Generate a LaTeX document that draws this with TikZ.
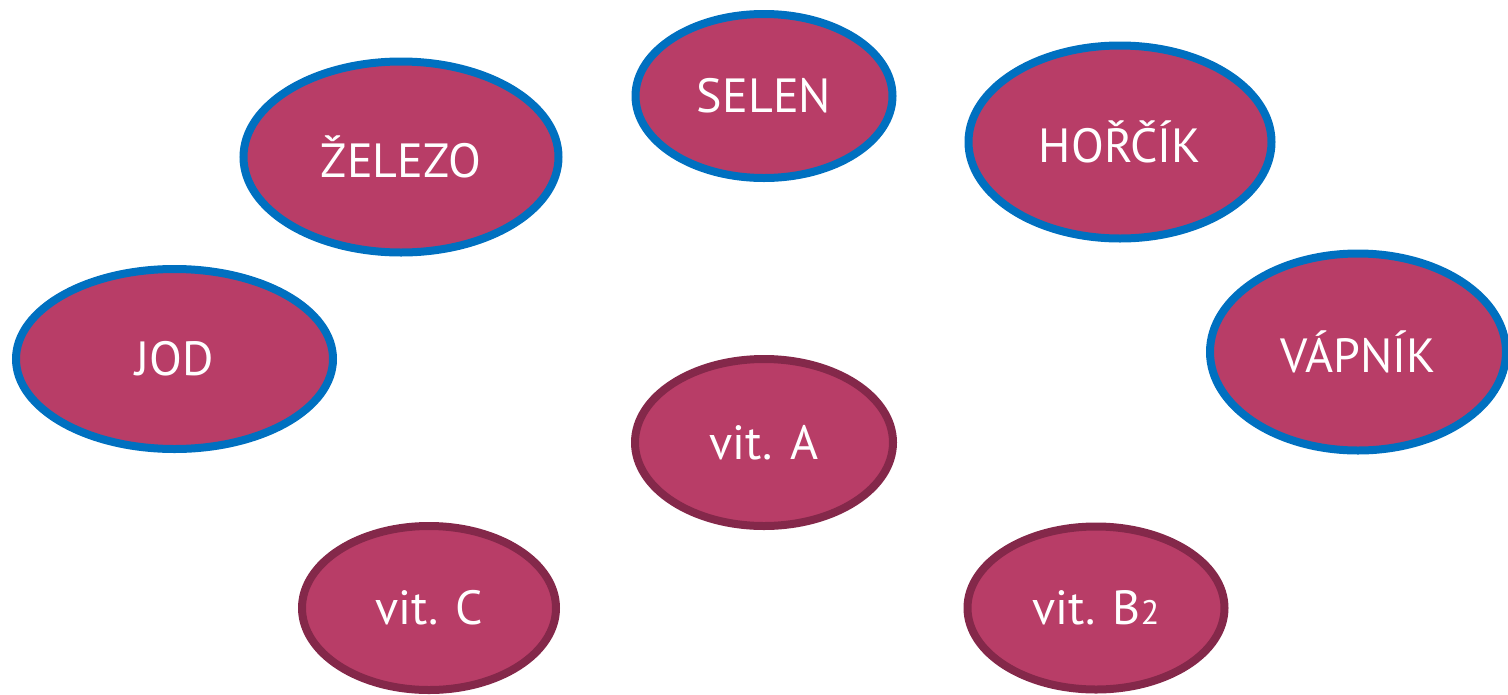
\documentclass[tikz,border=0pt]{standalone}
\usepackage{fontspec}
\setmainfont{PT Sans}
\usetikzlibrary{shapes.geometric}

\definecolor{elfill}{HTML}{B83D67}
\definecolor{minblue}{HTML}{0070C0}
\definecolor{vitdark}{HTML}{84284A}

\tikzset{
	blob/.style={ellipse, fill=elfill, text=white, inner sep=0pt, line width=8pt,
		font=\fontsize{48}{52}\selectfont},
	mineral/.style={blob, draw=minblue},
	vitamin/.style={blob, draw=vitdark}
}

\begin{document}
\begin{tikzpicture}[x=1pt,y=-1pt]
			\useasboundingbox (0,0) rectangle (1508,694);
			
			% minerals (blue border)
			\node[mineral, minimum width=257pt, minimum height=164pt] (selen) at (764,96) {SELEN};
			\node[mineral, minimum width=315pt, minimum height=191pt] (zelezo) at (401,157) {ŽELEZO};
			\node[mineral, minimum width=303pt, minimum height=193pt] (horcik) at (1120,142) {HOŘČÍK};
			\node[mineral, minimum width=317pt, minimum height=180pt] (jod) at (174.5,359) {JOD};
			\node[mineral, minimum width=296pt, minimum height=197pt] (vapnik) at (1358,352) {VÁPNÍK};
			
			% vitamins (dark border)
			\node[vitamin, minimum width=258pt, minimum height=167pt] (vitA) at (764,442.5) {vit. A};
			\node[vitamin, minimum width=254pt, minimum height=164pt] (vitC) at (429,608) {vit. C};
			\node[vitamin, minimum width=257pt, minimum height=163pt] (vitB) at (1096,608) {vit. B{\fontsize{34}{36}\selectfont 2}};
		\end{tikzpicture}
\end{document}
